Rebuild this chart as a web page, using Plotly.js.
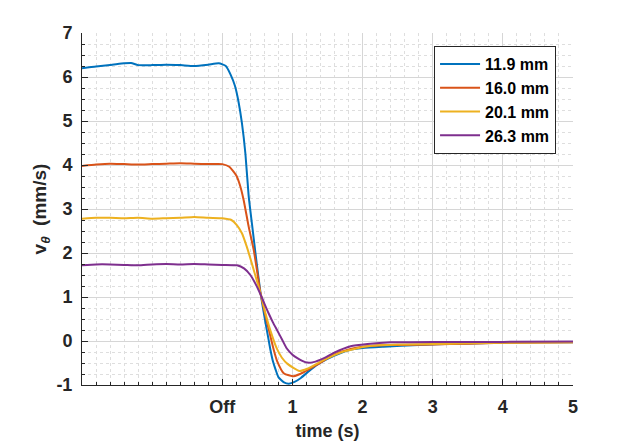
<!DOCTYPE html>
<html>
<head>
<meta charset="utf-8">
<script src="https://cdn.plot.ly/plotly-3.0.1.min.js"></script>
<style>
  html, body { margin: 0; padding: 0; background: #fff; }
  #chart { width: 633px; height: 445px; }
</style>
</head>
<body>
<div id="chart"></div>
<script>
// ── Data (time in s, velocity in mm/s) ─────────────────────────────
const seriesNames = ["11.9 mm", "16.0 mm", "20.1 mm", "26.3 mm"];
const seriesColors = ["#0072BD", "#D95319", "#EDB120", "#7E2F8E"];

const t119 = [-2.0, -1.8, -1.6, -1.4, -1.3, -1.2, -1.0, -0.8, -0.6, -0.4, -0.2, -0.05,
  0.05, 0.12, 0.18, 0.23, 0.28, 0.33, 0.376, 0.424, 0.471, 0.51, 0.543, 0.58, 0.62,
  0.66, 0.686, 0.72, 0.76, 0.80, 0.88, 0.95, 1.03, 1.12, 1.26, 1.40, 1.60, 1.80, 2.0,
  2.3, 2.8, 3.3, 4.0, 4.5, 5.0];
const v119 = [6.20, 6.24, 6.27, 6.31, 6.32, 6.27, 6.27, 6.28, 6.27, 6.25, 6.28, 6.31,
  6.25, 6.05, 5.80, 5.45, 4.95, 4.25, 3.30, 2.65, 2.02, 1.52, 1.12, 0.75, 0.38,
  0.03, -0.20, -0.45, -0.65, -0.82, -0.94, -0.97, -0.93, -0.84, -0.65, -0.49, -0.33, -0.21, -0.16,
  -0.13, -0.09, -0.06, -0.04, -0.03, -0.03];

const t160 = [-2.0, -1.8, -1.6, -1.4, -1.2, -1.0, -0.8, -0.6, -0.4, -0.2, 0.0,
  0.1, 0.2, 0.25, 0.305, 0.376, 0.448, 0.50, 0.543, 0.595, 0.66, 0.733, 0.78, 0.88,
  1.02, 1.16, 1.35, 1.59, 1.83, 2.07, 2.4, 3.0, 3.5, 4.0, 5.0];
const v160 = [3.98, 4.01, 4.03, 4.02, 4.01, 4.02, 4.03, 4.04, 4.03, 4.02, 4.02,
  3.96, 3.76, 3.55, 3.20, 2.60, 2.07, 1.55, 1.10, 0.72, 0.28, -0.20, -0.45, -0.74,
  -0.80, -0.71, -0.54, -0.31, -0.18, -0.12, -0.09, -0.08, -0.06, -0.04, -0.03];

const t201 = [-2.0, -1.8, -1.6, -1.4, -1.2, -1.0, -0.8, -0.6, -0.4, -0.2, 0.0,
  0.13, 0.21, 0.28, 0.35, 0.42, 0.50, 0.543, 0.612, 0.69, 0.78, 0.85, 0.93, 1.10, 1.21,
  1.45, 1.73, 2.07, 2.5, 3.0, 3.5, 4.0, 5.0];
const v201 = [2.78, 2.80, 2.80, 2.79, 2.80, 2.78, 2.79, 2.80, 2.82, 2.80, 2.79,
  2.75, 2.63, 2.45, 2.14, 1.77, 1.33, 1.10, 0.65, 0.22, -0.18, -0.38, -0.52, -0.68, -0.63,
  -0.43, -0.24, -0.12, -0.08, -0.07, -0.05, -0.04, -0.03];

const t263 = [-2.0, -1.8, -1.6, -1.4, -1.2, -1.0, -0.8, -0.6, -0.4, -0.2, 0.0,
  0.21, 0.31, 0.40, 0.47, 0.54, 0.60, 0.66, 0.72, 0.78, 0.85, 0.92, 1.0, 1.07, 1.14,
  1.21, 1.30, 1.45, 1.59, 1.83, 2.07, 2.4, 3.0, 4.0, 5.0];
const v263 = [1.72, 1.74, 1.74, 1.73, 1.72, 1.74, 1.75, 1.74, 1.75, 1.74, 1.73,
  1.72, 1.65, 1.50, 1.31, 1.08, 0.85, 0.63, 0.43, 0.25, 0.04, -0.17, -0.31, -0.39, -0.45,
  -0.49, -0.48, -0.39, -0.27, -0.12, -0.07, -0.03, -0.02, -0.02, -0.01];

const xTickVals = [0, 1, 2, 3, 4, 5];
const xTickText = ["Off", "1", "2", "3", "4", "5"];
const yTickVals = [-1, 0, 1, 2, 3, 4, 5, 6, 7];
const yTickText = ["-1", "0", "1", "2", "3", "4", "5", "6", "7"];

// ── Traces ──────────────────────────────────────────────────────────
const times = [t119, t160, t201, t263];
const vels = [v119, v160, v201, v263];

const traces = seriesNames.map((name, i) => ({
  x: times[i],
  y: vels[i],
  type: "scatter",
  mode: "lines",
  name,
  line: { color: seriesColors[i], width: 2, shape: "spline", smoothing: 0.5 },
}));

// ── Layout (MATLAB-like axes) ───────────────────────────────────────
const FONT = "Liberation Sans, Arial, sans-serif";
const minorGrid = {
  tickmode: "linear", tick0: 0,
  ticks: "inside", ticklen: 3, tickcolor: "#262626",
  showgrid: true, gridcolor: "#dedede", griddash: "3px,3px",
};
const axisCommon = {
  showline: true,
  linecolor: "#262626",
  linewidth: 1,
  mirror: false,
  ticks: "inside",
  ticklen: 6,
  tickwidth: 1,
  tickcolor: "#262626",
  showgrid: true,
  gridcolor: "#d6d6d6",
  gridwidth: 1,
  zeroline: false,
  tickmode: "array",
  tickfont: { family: FONT, size: 18, color: "#262626", weight: "bold" },
};

const layout = {
  width: 633,
  height: 445,
  margin: { l: 82, r: 60, t: 33, b: 60 },
  paper_bgcolor: "#fff",
  plot_bgcolor: "#fff",
  showlegend: true,
  xaxis: Object.assign({}, axisCommon, {
    range: [-2, 5],
    tickvals: xTickVals,
    ticktext: xTickText,
    ticklabelstandoff: 5,
    minor: Object.assign({}, minorGrid, { dtick: 0.2 }),
    title: {
      text: "time (s)",
      font: { family: FONT, size: 18, color: "#262626", weight: "bold" },
      standoff: 8,
    },
  }),
  yaxis: Object.assign({}, axisCommon, {
    range: [-1, 7],
    tickvals: yTickVals,
    ticktext: yTickText,
    ticklabelstandoff: 5,
    minor: Object.assign({}, minorGrid, { dtick: 0.25 }),
    title: {
      text: "v<sub><i>θ</i></sub>  (mm/s)",
      font: { family: FONT, size: 19, color: "#262626", weight: "bold" },
      standoff: 4,
    },
  }),
  legend: {
    x: 0.717,
    y: 0.963,
    xanchor: "left",
    yanchor: "top",
    bgcolor: "#fff",
    bordercolor: "#262626",
    borderwidth: 1,
    itemwidth: 40,
    tracegroupgap: 0,
    font: { family: FONT, size: 16, color: "#000", weight: "bold" },
  },
};

Plotly.newPlot("chart", traces, layout, { displayModeBar: false, staticPlot: true });
</script>
</body>
</html>
